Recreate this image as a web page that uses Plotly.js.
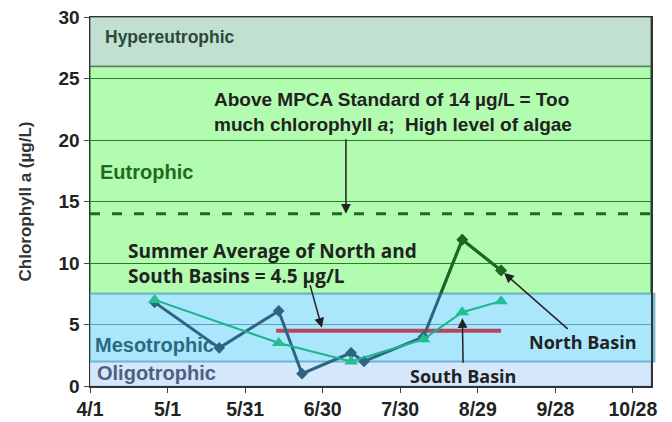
<!DOCTYPE html>
<html>
<head>
<meta charset="utf-8">
<script src="https://cdn.plot.ly/plotly-3.0.1.min.js"></script>
<style>html,body{margin:0;padding:0;background:#fff;}#chart{width:672px;height:422px;}</style>
</head>
<body>
<div id="chart"></div>
<script>
// ---- Data ----
const northDates = ['2011-04-26','2011-05-21','2011-06-13','2011-06-22','2011-07-11','2011-07-16','2011-08-08','2011-08-23','2011-09-07'];
const northValues = [6.8, 3.1, 6.1, 1.0, 2.7, 2.0, 4.0, 11.9, 9.4];
const southDates = ['2011-04-26','2011-06-13','2011-07-11','2011-08-08','2011-08-23','2011-09-07'];
const southValues = [7.0, 3.5, 2.0, 3.8, 6.0, 6.9];
const summerPeriod = ['2011-06-12','2011-09-07'];
const summerAverage = 4.5;
const mpcaStandard = 14;
const trophicNames = ['Oligotrophic','Mesotrophic','Eutrophic','Hypereutrophic'];
const trophicBounds = [0, 2, 7.5, 26, 30];
const xRange = ['2011-04-01','2011-11-04'];
const yRange = [0, 30];

const F = 'Liberation Sans, Arial, sans-serif';
const F2 = 'Open Sans, Noto Sans, sans-serif';
const DAY = 86400000;

const northBlue = '#2f6480';
const northGreen = '#1c6a1f';

const traces = [
  {x: summerPeriod, y: [summerAverage, summerAverage], mode:'lines', line:{color:'#b4475d', width:4}, hoverinfo:'skip', showlegend:false},
  {x: northDates, y: northValues, mode:'lines+markers', line:{color:northBlue, width:3}, marker:{symbol:'diamond', size:9, color:northBlue}, showlegend:false},
  {x: southDates, y: southValues, mode:'lines+markers', line:{color:'#1db48b', width:2}, marker:{symbol:'triangle-up', size:12, color:'#21c092'}, showlegend:false},
  // same North series, on an axis limited to the eutrophic zone, drawn in green
  {x: northDates, y: northValues, xaxis:'x', yaxis:'y2', mode:'lines+markers', line:{color:northGreen, width:3}, marker:{symbol:'diamond', size:9, color:northGreen}, showlegend:false}
];

const bandStyles = [
  {fill:'#d5e7fb', line:'#a7bedb', w:1},
  {fill:'#aae6fc', line:'#6db6d2', w:2},
  {fill:'#b2fcb0', line:'#4fae55', w:2},
  {fill:'#c2e0d2', line:'#4a5a52', w:1}
];
const order = [2,3,0,1];
const shapes = order.map(i => ({
  type:'rect', xref:'paper', yref:'y', x0:0, x1: i===1 ? 1.006 : 1,
  y0: trophicBounds[i], y1: trophicBounds[i+1],
  fillcolor: bandStyles[i].fill, line:{color:bandStyles[i].line, width:bandStyles[i].w}, layer:'below'
}));
shapes.push({type:'line', xref:'paper', yref:'y', x0:0, x1:1, y0:mpcaStandard, y1:mpcaStandard,
  line:{color:'#1e6b1e', width:3, dash:'10px,12px'}, layer:'below'});

const B = t => '<b>' + t + '</b>';
const lbl = (text, x, y, color, size, font) => ({text: B(text), x, y, xref:'x', yref:'y', xanchor:'left', yanchor:'middle',
  showarrow:false, align:'left', font:{family: font || F, size: size, color}});

const annotations = [
  lbl(trophicNames[3], '2011-04-06', 28.4, '#2c4a3a', 17.5),
  lbl(trophicNames[2], '2011-04-04', 17.4, '#1f6b1f', 20),
  lbl(trophicNames[1], '2011-04-02', 3.35, '#2b6a80', 20),
  lbl(trophicNames[0], '2011-04-03', 1.05, '#4d6080', 20),
  lbl('Above MPCA Standard of 14 µg/L = Too</b><br><b>much chlorophyll <i>a</i>;  High level of algae', '2011-05-18', 22.3, '#222', 19),
  lbl('Summer Average of North and</b><br><b>South Basins = 4.5 µg/L', '2011-04-15', 10.0, '#222', 19, F2),
  // arrows
  {text:'', x:'2011-07-09', y:mpcaStandard, xref:'x', yref:'y', ax:0, ay:-76, showarrow:true, arrowhead:2, arrowsize:1.3, arrowwidth:1.5, arrowcolor:'#222', standoff:0},
  {text:'', x:'2011-06-30', y:summerAverage, xref:'x', yref:'y', ax:-13, ay:-47, showarrow:true, arrowhead:2, arrowsize:1.3, arrowwidth:1.5, arrowcolor:'#222', standoff:3},
  {text:B('North Basin'), x:northDates[8], y:northValues[8], xref:'x', yref:'y', ax:82, ay:72, showarrow:true, arrowhead:2, arrowsize:1.3, arrowwidth:1.5, arrowcolor:'#222', standoff:4,
   font:{family:F2, size:18, color:'#222'}},
  {text:B('South Basin'), x:southDates[4], y:southValues[4], xref:'x', yref:'y', ax:1, ay:64, showarrow:true, arrowhead:2, arrowsize:1.3, arrowwidth:1.5, arrowcolor:'#222', standoff:6,
   font:{family:F2, size:18, color:'#222'}}
];

const layout = {
  width:672, height:422,
  margin:{l:90, r:21, t:17, b:36},
  paper_bgcolor:'#fff', plot_bgcolor:'rgba(0,0,0,0)',
  showlegend:false,
  xaxis:{type:'date', range:xRange, tick0:'2011-04-01', dtick:30*DAY, tickformat:'%-m/%-d',
    tickprefix:'<b>', ticksuffix:'</b>',
    ticks:'outside', ticklen:5, tickcolor:'#444', showline:true, linecolor:'#333', linewidth:1.5, mirror:true,
    showgrid:false, zeroline:false, tickfont:{family:F, size:19.5, color:'#222'}},
  yaxis:{range:yRange, dtick:5, tick0:0, ticks:'outside', ticklen:5, tickcolor:'#444',
    tickprefix:'<b>', ticksuffix:'</b>',
    showline:true, linecolor:'#333', linewidth:1.5, mirror:true, zeroline:false,
    showgrid:true, gridcolor:'#5f9fba', gridwidth:1,
    tickfont:{family:F, size:19, color:'#222'},
    title:{text:'<b>Chlorophyll a (µg/L)</b>', standoff:22, font:{family:F, size:17, color:'#333'}}},
  yaxis2:{domain:[0.25,1], range:[trophicBounds[2], yRange[1]], anchor:'x', tick0:0, dtick:5,
    showgrid:true, gridcolor:'#2f7a2f', gridwidth:1, showticklabels:false, ticks:'', showline:false, zeroline:false},
  shapes, annotations
};

Plotly.newPlot('chart', traces, layout, {displayModeBar:false, staticPlot:true});
</script>
</body>
</html>
